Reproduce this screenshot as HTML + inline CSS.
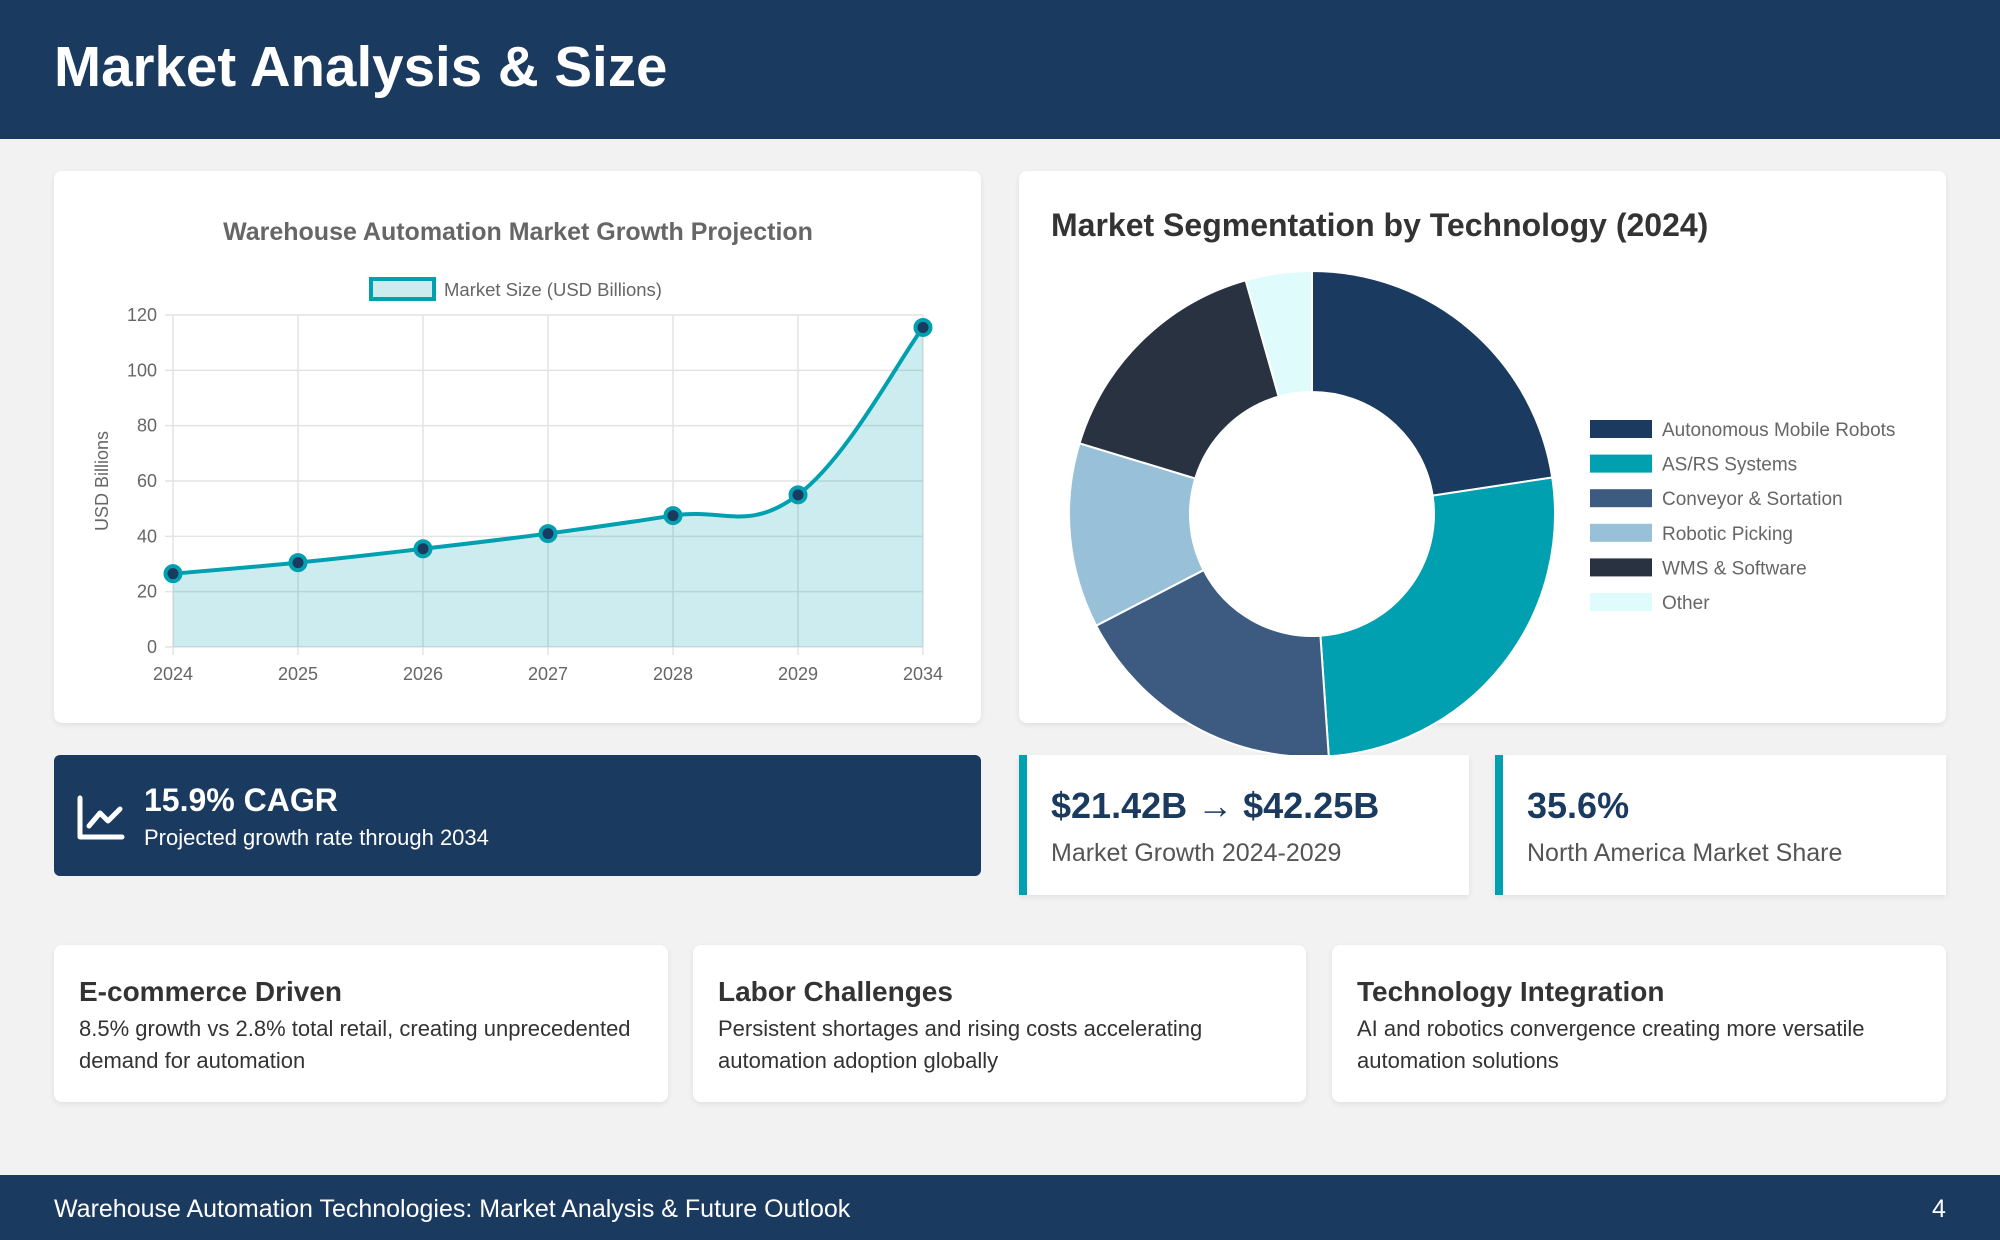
<!DOCTYPE html>
<html><head><meta charset="utf-8"><style>
*{margin:0;padding:0;box-sizing:border-box}
body{width:2000px;height:1240px;background:#f2f2f2;font-family:"Liberation Sans",sans-serif;position:relative;overflow:hidden}
.abs{position:absolute}
.card{position:absolute;background:#fff;border-radius:8px;box-shadow:0 2px 6px rgba(0,0,0,0.08)}
#header{left:0;top:0;width:2000px;height:139px;background:#1b3a5f}
#header h1{position:absolute;left:54px;top:34px;color:#fff;font-size:56.5px;font-weight:bold}
#footer{left:0;top:1175px;width:2000px;height:65px;background:#1b3a5f;color:#fff;font-size:25px}
.stat{position:absolute;background:#fff;border-left:8px solid #00a0b0;box-shadow:0 2px 6px rgba(0,0,0,0.08)}
.stat .big{position:absolute;left:24px;top:30px;font-size:36px;font-weight:bold;color:#1b3a5f}
.stat .lbl{position:absolute;left:24px;top:84px;font-size:25px;color:#555}
.bc h3{position:absolute;left:25px;top:31px;font-size:28px;font-weight:bold;color:#333}
.bc p{position:absolute;left:25px;top:68px;width:580px;font-size:22px;line-height:32px;color:#333}
</style></head><body>
<div id="header" class="abs"><h1>Market Analysis &amp; Size</h1></div>

<div class="card" style="left:54px;top:171px;width:927px;height:552px">
<svg id="lc" width="927" height="552" style="position:absolute;left:0;top:0"></svg>
</div>

<div class="card" style="left:1019px;top:171px;width:927px;height:552px">
<div class="abs" style="left:32px;top:36px;font-size:32px;font-weight:bold;color:#333">Market Segmentation by Technology (2024)</div>
</div>
<svg id="dc" width="2000" height="1240" style="position:absolute;left:0;top:0;pointer-events:none"></svg>

<div class="abs" style="left:54px;top:755px;width:927px;height:121px;background:#1b3a5f;border-radius:6px">
<svg class="abs" style="left:22px;top:38px" width="50" height="50"><path d="M4 5 V44 H46" fill="none" stroke="#fff" stroke-width="5" stroke-linecap="round" stroke-linejoin="round"/><path d="M13 33 L24 20 L32 28 L44 16" fill="none" stroke="#fff" stroke-width="5" stroke-linecap="round" stroke-linejoin="round"/></svg>
<div class="abs" style="left:90px;top:27px;font-size:32px;font-weight:bold;color:#fff">15.9% CAGR</div>
<div class="abs" style="left:90px;top:70px;font-size:22px;color:#fff">Projected growth rate through 2034</div>
</div>

<div class="stat" style="left:1019px;top:755px;width:450px;height:140px"><div class="big">$21.42B → $42.25B</div><div class="lbl">Market Growth 2024-2029</div></div>
<div class="stat" style="left:1495px;top:755px;width:451px;height:140px"><div class="big">35.6%</div><div class="lbl">North America Market Share</div></div>

<div class="card bc" style="left:54px;top:945px;width:614px;height:157px"><h3>E-commerce Driven</h3><p>8.5% growth vs 2.8% total retail, creating unprecedented demand for automation</p></div>
<div class="card bc" style="left:693px;top:945px;width:613px;height:157px"><h3>Labor Challenges</h3><p>Persistent shortages and rising costs accelerating automation adoption globally</p></div>
<div class="card bc" style="left:1332px;top:945px;width:614px;height:157px"><h3>Technology Integration</h3><p>AI and robotics convergence creating more versatile automation solutions</p></div>

<div id="footer" class="abs">
<div class="abs" style="left:54px;top:20px">Warehouse Automation Technologies: Market Analysis &amp; Future Outlook</div>
<div class="abs" style="left:1932px;top:20px">4</div>
</div>

<script>
const years = ["2024","2025","2026","2027","2028","2029","2034"];
const marketSize = [26.5, 30.5, 35.5, 41, 47.5, 55, 115.5];
const yTicks = [0,20,40,60,80,100,120];
const segLabels = ["Autonomous Mobile Robots","AS/RS Systems","Conveyor & Sortation","Robotic Picking","WMS & Software","Other"];
const segValues = [22.6, 26.3, 18.5, 12.3, 15.9, 4.4];
const segColors = ["#1b3a5f","#00a0b0","#3d5a80","#98c1d9","#293241","#e0fbfc"];

const NS="http://www.w3.org/2000/svg";
function mk(parent,tag,attrs,text){const e=document.createElementNS(NS,tag);for(const k in attrs)e.setAttribute(k,attrs[k]);if(text!==undefined)e.textContent=text;parent.appendChild(e);return e;}

const lc=document.getElementById('lc');
const X0=119,X1=869,Y0=476,Y1=144;
const xS=i=>X0+(X1-X0)*i/(years.length-1);
const yS=v=>Y0-(Y0-Y1)*v/120;
let t=mk(lc,'text',{x:464,y:69,'text-anchor':'middle','font-size':25,'font-weight':'bold',fill:'#666'},'Warehouse Automation Market Growth Projection');


let lb=mk(lc,'rect',{x:317,y:108,width:63,height:20,fill:'rgba(0,160,176,0.2)',stroke:'#00a0b0','stroke-width':4});


t=mk(lc,'text',{x:390,y:125,'font-size':18.5,fill:'#666'},'Market Size (USD Billions)');


yTicks.forEach(v=>{
  const g=mk(lc,'line',{x1:X0-8,x2:X1,y1:yS(v),y2:yS(v),stroke:'#e3e3e3','stroke-width':1.5});
  
  
  const tx=mk(lc,'text',{x:X0-16,y:yS(v)+6,'text-anchor':'end','font-size':18,fill:'#666'},String(v));
  
  
});
years.forEach((y,i)=>{
  const g=mk(lc,'line',{x1:xS(i),x2:xS(i),y1:Y1,y2:Y0+8,stroke:'#e3e3e3','stroke-width':1.5});
  
  
  const tx=mk(lc,'text',{x:xS(i),y:Y0+33,'text-anchor':'middle','font-size':18,fill:'#666'},y);
  
  
});
t=mk(lc,'text',{x:0,y:0,'text-anchor':'middle','font-size':18,fill:'#666',transform:`translate(54,${(Y0+Y1)/2}) rotate(-90)`},'USD Billions');


const pts=marketSize.map((v,i)=>[xS(i),yS(v)]);
let d=`M${pts[0][0]},${pts[0][1]}`;
for(let i=0;i<pts.length-1;i++){
  const p0=pts[Math.max(0,i-1)],p1=pts[i],p2=pts[i+1],p3=pts[Math.min(pts.length-1,i+2)];
  const k=0.2;
  const c1=[p1[0]+(p2[0]-p0[0])*k,p1[1]+(p2[1]-p0[1])*k];
  const c2=[p2[0]-(p3[0]-p1[0])*k,p2[1]-(p3[1]-p1[1])*k];
  d+=` C${c1[0]},${c1[1]} ${c2[0]},${c2[1]} ${p2[0]},${p2[1]}`;
}
let a=mk(lc,'path',{d:d+` L${X1},${Y0} L${X0},${Y0} Z`,fill:'rgba(0,160,176,0.2)'});


a=mk(lc,'path',{d:d,fill:'none',stroke:'#00a0b0','stroke-width':4});


pts.forEach(p=>{
  const c=mk(lc,'circle',{cx:p[0],cy:p[1],r:7.5,fill:'#1b3a5f',stroke:'#00a0b0','stroke-width':4});
  
  
});

const dc=document.getElementById('dc');
const CX=1312,CY=514,RO=243,RI=122;
const total=segValues.reduce((s,v)=>s+v,0);
let ang=0;
const pt=(r,an)=>[CX+r*Math.sin(an),CY-r*Math.cos(an)];
segValues.forEach((v,i)=>{
  const a0=ang,a1=ang+v/total*2*Math.PI;ang=a1;
  const lg=(a1-a0)>Math.PI?1:0;
  const o0=pt(RO,a0),o1=pt(RO,a1),i1=pt(RI,a1),i0=pt(RI,a0);
  const p=mk(dc,'path',{d:`M${o0} A${RO},${RO} 0 ${lg} 1 ${o1} L${i1} A${RI},${RI} 0 ${lg} 0 ${i0} Z`,fill:segColors[i],stroke:'#fff','stroke-width':2});
  
  
  const ly=429+i*34.6;
  const r=mk(dc,'rect',{x:1590,y:ly-9,width:62,height:18,fill:segColors[i]});
  
  
  const tx=mk(dc,'text',{x:1662,y:ly+7,'font-size':19,fill:'#666'},segLabels[i]);
  
  
});
</script>
</body></html>
